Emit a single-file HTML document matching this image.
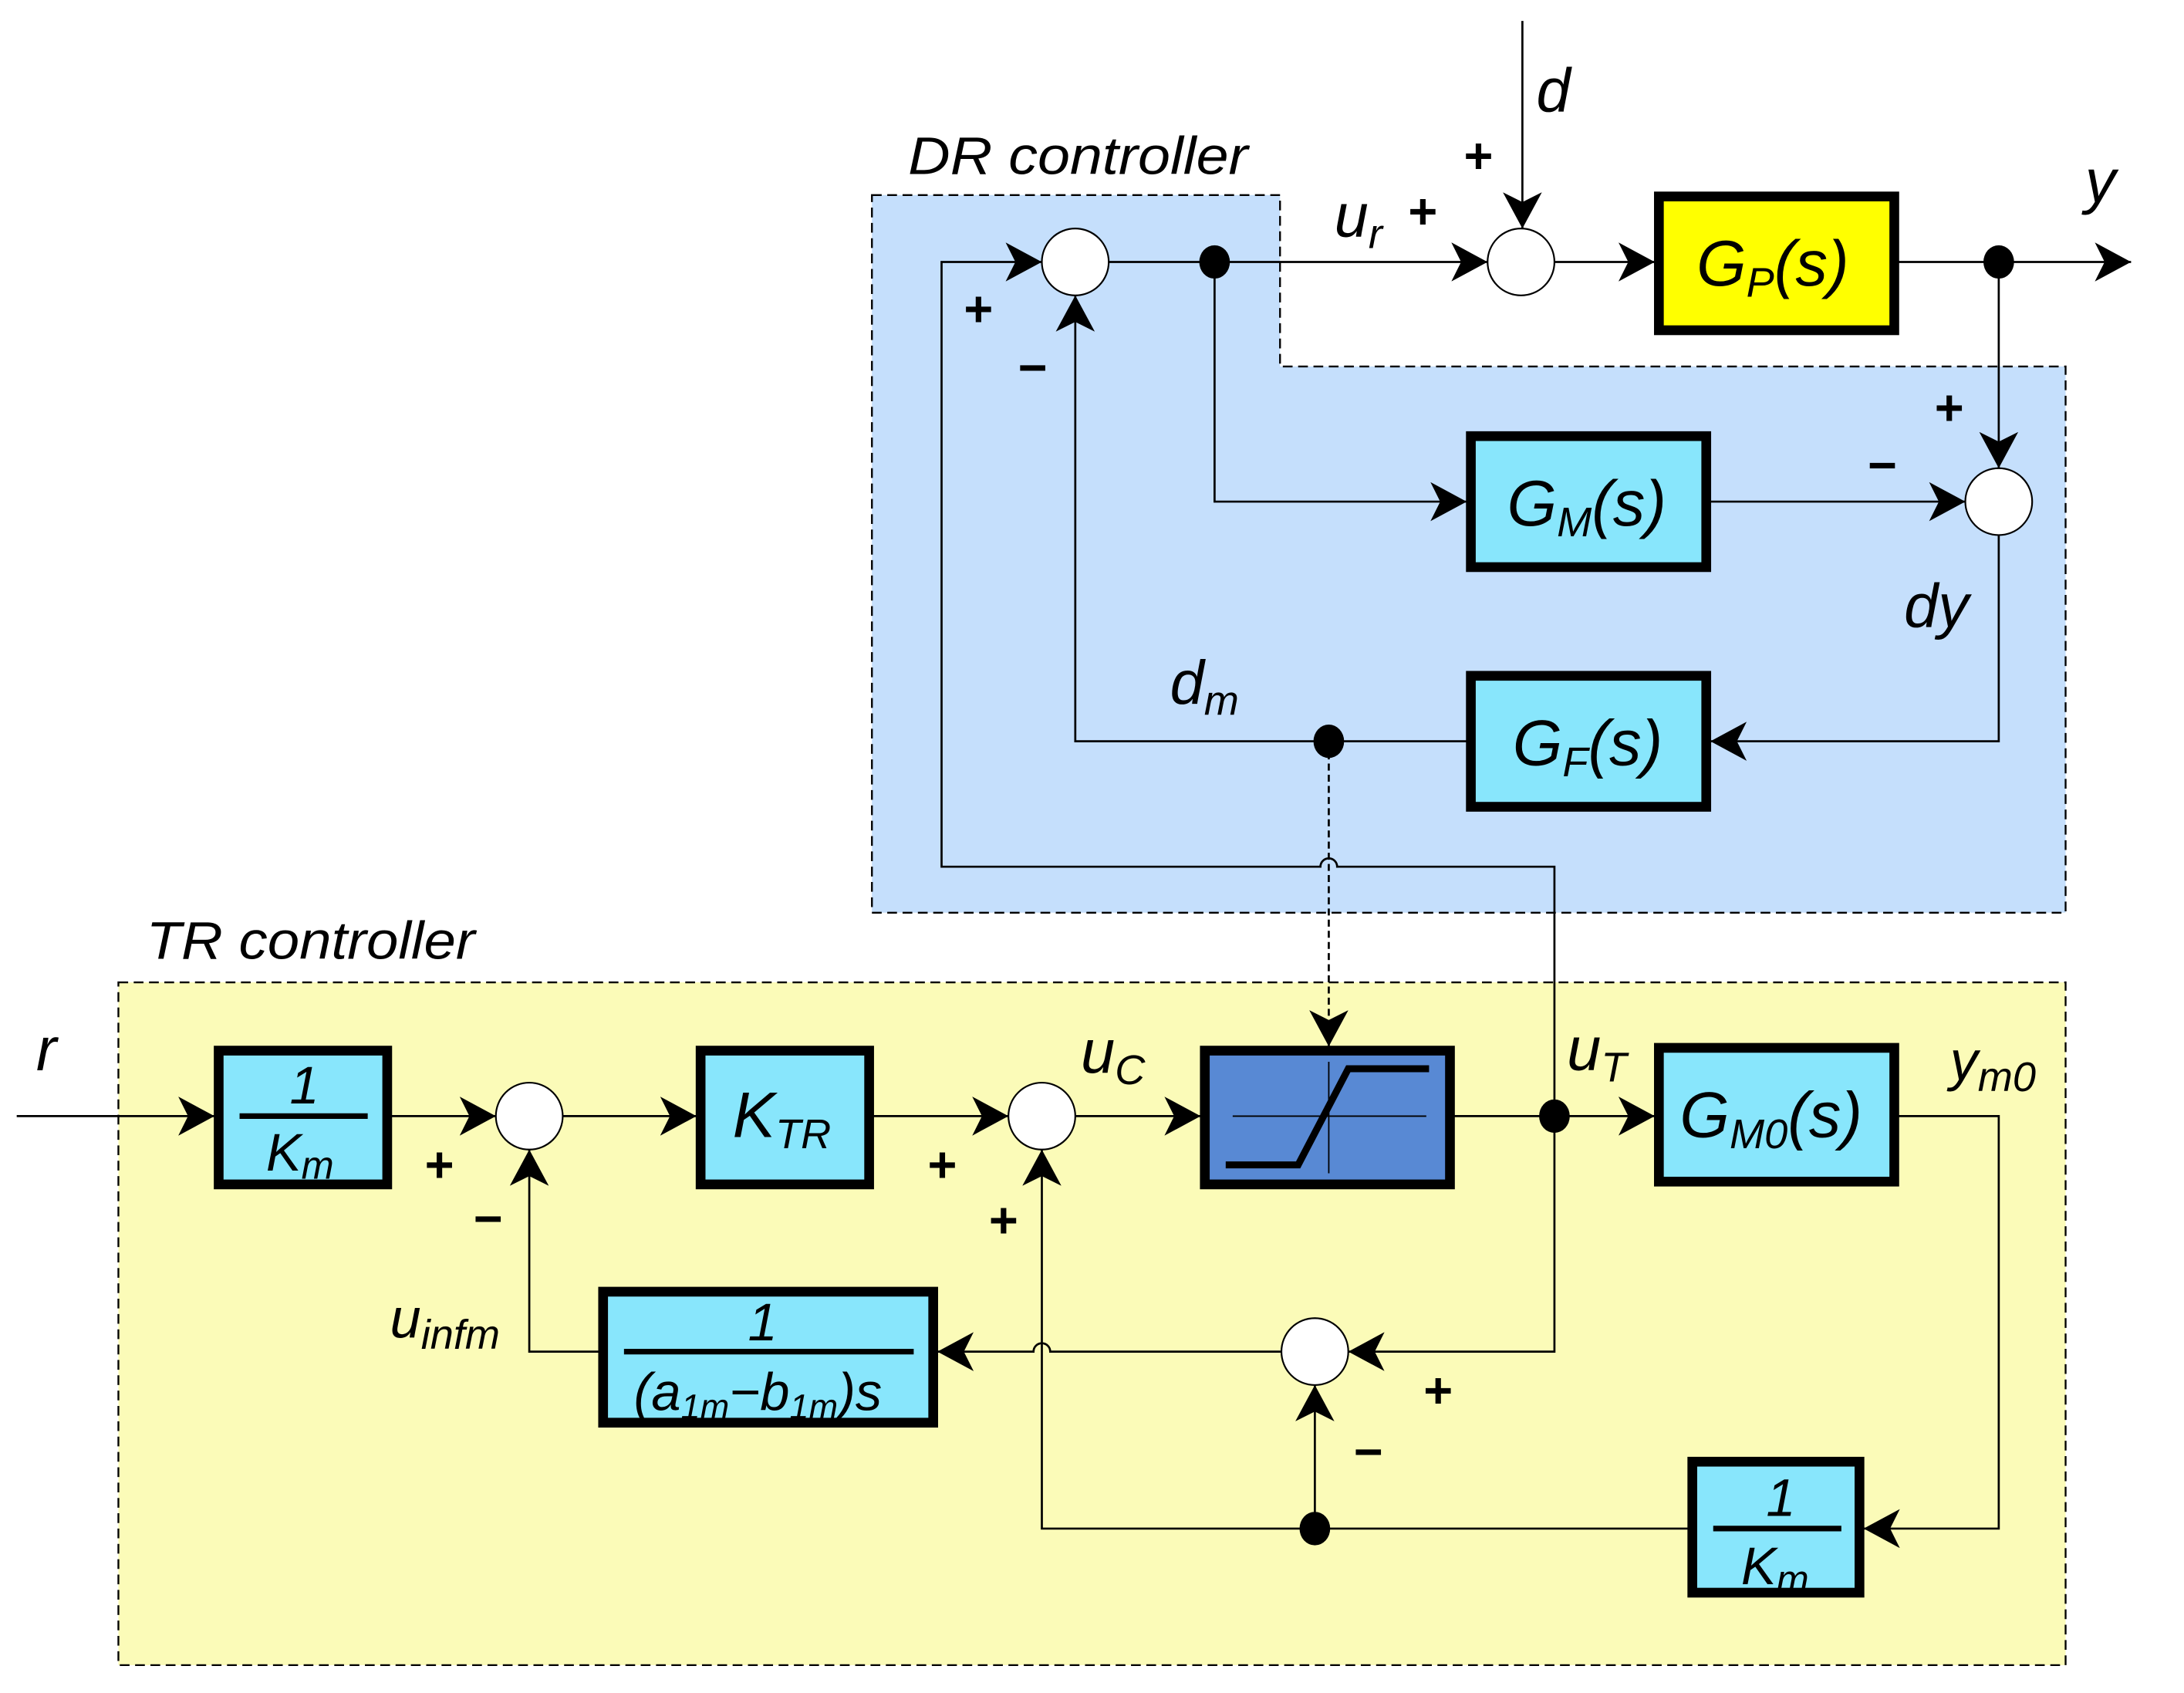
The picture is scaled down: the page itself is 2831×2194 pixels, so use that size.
<!DOCTYPE html>
<html><head><meta charset="utf-8"><style>
html,body{margin:0;padding:0;background:#fff}
svg{display:block}
text{font-family:"Liberation Sans",sans-serif;font-style:italic;fill:#000}
</style></head><body>
<svg width="2831" height="2194" viewBox="0 0 1568 1215" preserveAspectRatio="none" xmlns="http://www.w3.org/2000/svg">
<defs>
<marker id="a" markerUnits="userSpaceOnUse" markerWidth="34" markerHeight="34" refX="26" refY="14" orient="auto">
<path d="M0,0 L26,14 L0,28 L7,14 Z" fill="#000"/>
</marker>
</defs>
<path d="M626,140 H919 V263 H1483 V655 H626 Z" fill="#c5dffc" stroke="#000" stroke-width="1.3" stroke-dasharray="7,4"/>
<rect x="85" y="705" width="1398" height="490" fill="#fbfbb8" stroke="#000" stroke-width="1.3" stroke-dasharray="7,4"/>
<text x="652" y="125" font-size="38" textLength="244" lengthAdjust="spacingAndGlyphs">DR controller</text>
<text x="105" y="688" font-size="38" textLength="236" lengthAdjust="spacingAndGlyphs">TR controller</text>

<g stroke="#000" stroke-width="1.5" fill="none">
<path d="M796,188 H1068" marker-end="url(#a)"/>
<path d="M1093,15 V164" marker-end="url(#a)"/>
<path d="M1116,188 H1188" marker-end="url(#a)"/>
<path d="M1363,188 H1530" marker-end="url(#a)"/>
<path d="M1435,188 V336" marker-end="url(#a)"/>
<path d="M872,188 V360 H1053" marker-end="url(#a)"/>
<path d="M1228,360 H1411" marker-end="url(#a)"/>
<path d="M1435,384 V532 H1228" marker-end="url(#a)"/>
<path d="M1053,532 H772 V212" marker-end="url(#a)"/>
<path d="M1116,801 V622 H960 A6,6 0 0 0 948,622 H676 V188 H748" marker-end="url(#a)"/>
<path d="M954,532 V751" stroke-dasharray="5,3" marker-end="url(#a)"/>
<path d="M12,801 H154" marker-end="url(#a)"/>
<path d="M281,801 H356" marker-end="url(#a)"/>
<path d="M404,801 H500" marker-end="url(#a)"/>
<path d="M627,801 H724" marker-end="url(#a)"/>
<path d="M772,801 H862" marker-end="url(#a)"/>
<path d="M1044,801 H1188" marker-end="url(#a)"/>
<path d="M1116,801 V970 H968" marker-end="url(#a)"/>
<path d="M920,970 H754 A6,6 0 0 0 742,970 H673" marker-end="url(#a)"/>
<path d="M430,970 H380 V825" marker-end="url(#a)"/>
<path d="M1363,801 H1435 V1097 H1338" marker-end="url(#a)"/>
<path d="M1212,1097 H748 V825" marker-end="url(#a)"/>
<path d="M944,1097 V994" marker-end="url(#a)"/>
</g>
<g fill="#000">
<ellipse cx="872" cy="188" rx="11" ry="12"/>
<ellipse cx="1435" cy="188" rx="11" ry="12"/>
<ellipse cx="954" cy="532" rx="11" ry="12"/>
<ellipse cx="1116" cy="801" rx="11" ry="12"/>
<ellipse cx="944" cy="1097" rx="11" ry="12"/>
</g>
<g fill="#fff" stroke="#000" stroke-width="1.2">
<circle cx="772" cy="188" r="24"/>
<circle cx="1092" cy="188" r="24"/>
<circle cx="1435" cy="360" r="24"/>
<circle cx="380" cy="801" r="24"/>
<circle cx="748" cy="801" r="24"/>
<circle cx="944" cy="970" r="24"/>
</g>
<g stroke="#000" stroke-width="7">
<rect x="1191" y="141" width="169" height="96" fill="#ffff00"/>
<rect x="1056" y="313" width="169" height="94" fill="#88e6fc"/>
<rect x="1056" y="485" width="169" height="94" fill="#88e6fc"/>
<rect x="157" y="754" width="121" height="96" fill="#88e6fc"/>
<rect x="503" y="754" width="121" height="96" fill="#88e6fc"/>
<rect x="865" y="754" width="176" height="96" fill="#5889d4"/>
<rect x="1191" y="752" width="169" height="96" fill="#88e6fc"/>
<rect x="433" y="927" width="237" height="94" fill="#88e6fc"/>
<rect x="1215" y="1049" width="120" height="94" fill="#88e6fc"/>
</g>
<path d="M885,801 H1024 M954,762 V842" stroke="#000" stroke-width="1"/>
<path d="M880,836 H932 L968,767 H1026" stroke="#000" stroke-width="5" fill="none"/>
<g stroke="#000" stroke-width="4">
<line x1="172" y1="801" x2="264" y2="801"/>
<line x1="448" y1="970" x2="656" y2="970"/>
<line x1="1230" y1="1097" x2="1322" y2="1097"/>
</g>
<g font-size="46">
<text x="1218" y="205">G<tspan font-size="30" dy="8">P</tspan><tspan dy="-8">(s)</tspan></text>
<text x="1082" y="377">G<tspan font-size="30" dy="8">M</tspan><tspan dy="-8">(s)</tspan></text>
<text x="1086" y="549">G<tspan font-size="30" dy="8">F</tspan><tspan dy="-8">(s)</tspan></text>
<text x="1206" y="816">G<tspan font-size="30" dy="8">M0</tspan><tspan dy="-8">(s)</tspan></text>
<text x="526" y="816">K<tspan font-size="30" dy="8">TR</tspan></text>
<text x="208" y="792" font-size="38">1</text>
<text x="191" y="840" font-size="38">K<tspan font-size="28" dy="6">m</tspan></text>
<text x="1268" y="1088" font-size="38">1</text>
<text x="1250" y="1137" font-size="38">K<tspan font-size="28" dy="6">m</tspan></text>
<text x="537" y="962" font-size="38">1</text>
<text x="455" y="1012" font-size="38">(a<tspan font-size="25" dy="6">1m</tspan><tspan dy="-6">−b</tspan><tspan font-size="25" dy="6">1m</tspan><tspan dy="-6">)s</tspan></text>
</g>
<g font-size="44">
<text x="1103" y="80">d</text>
<text x="1497" y="145">y</text>
<text x="958" y="170">u<tspan font-size="30" dy="8">r</tspan></text>
<text x="1367" y="450">dy</text>
<text x="840" y="505">d<tspan font-size="30" dy="8">m</tspan></text>
<text x="26" y="768">r</text>
<text x="776" y="770">u<tspan font-size="30" dy="8">C</tspan></text>
<text x="1125" y="768">u<tspan font-size="30" dy="8">T</tspan></text>
<text x="1400" y="775" font-size="40">y<tspan font-size="30" dy="8">m0</tspan></text>
<text x="280" y="960" font-size="40">u<tspan font-size="30" dy="8">infm</tspan></text>
</g>
<g font-size="36" style="font-style:normal" font-weight="bold">
<text x="692" y="234" style="font-style:normal">+</text>
<text x="731" y="276" style="font-style:normal">−</text>
<text x="1011" y="164" style="font-style:normal">+</text>
<text x="1051" y="124" style="font-style:normal">+</text>
<text x="1389" y="305" style="font-style:normal">+</text>
<text x="1341" y="346" style="font-style:normal">−</text>
<text x="305" y="848" style="font-style:normal">+</text>
<text x="340" y="887" style="font-style:normal">−</text>
<text x="666" y="848" style="font-style:normal">+</text>
<text x="710" y="888" style="font-style:normal">+</text>
<text x="1022" y="1010" style="font-style:normal">+</text>
<text x="972" y="1054" style="font-style:normal">−</text>
</g>
</svg>
</body></html>
